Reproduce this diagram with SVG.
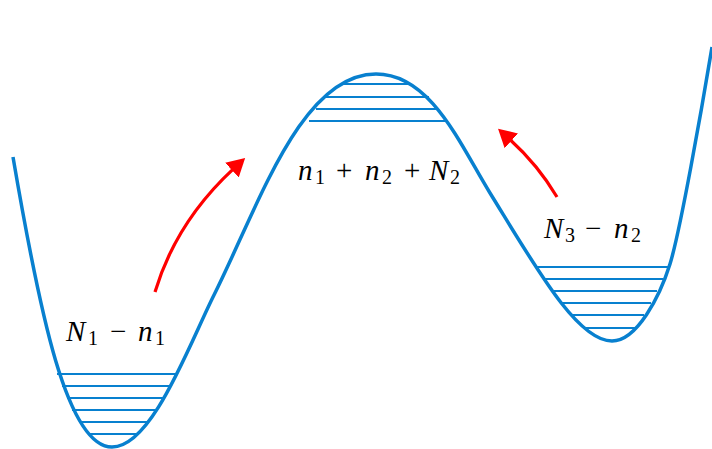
<svg xmlns="http://www.w3.org/2000/svg" width="712" height="449" viewBox="0 0 712 449">
<style>
.curve{fill:none;stroke:#0880CF;stroke-width:3.5;stroke-linecap:butt;stroke-linejoin:round}
.lvl{stroke:#0880CF;stroke-width:2.2;fill:none}
.arr{fill:none;stroke:#ff0000;stroke-width:3.2}
.lab{font-family:"Liberation Serif","DejaVu Serif",serif;fill:#000}
.v{font-style:italic;font-size:29px}
.s{font-size:20px}
.o{font-size:29px}
</style>
<defs>
<marker id="head" viewBox="0 0 18 20" refX="2" refY="10" markerWidth="18" markerHeight="20" markerUnits="userSpaceOnUse" orient="auto">
<path d="M0,0 L18,10 L0,20 Z" fill="#ff0000"/>
</marker>
</defs>
<rect width="712" height="449" fill="#ffffff"/>
<g id="potential">
<path class="curve" d="M13,157 C39.6,312.8 67,447 112,447 C152,447 189,345 214,295 C259,205 301,74 376,74 C431,74 460,144.4 490,193 C535,265.9 577,341 612,341 C637,341 660,296 670,264 C680,232 702,107.6 712,47"/>
</g>
<g id="well-left">
<line class="lvl" x1="57" y1="374" x2="177" y2="374"/>
<line class="lvl" x1="62" y1="386" x2="169" y2="386"/>
<line class="lvl" x1="67" y1="398" x2="164" y2="398"/>
<line class="lvl" x1="72" y1="410" x2="158" y2="410"/>
<line class="lvl" x1="79" y1="422" x2="149" y2="422"/>
<line class="lvl" x1="89" y1="434" x2="138" y2="434"/>
</g>
<g id="barrier-top">
<line class="lvl" x1="342" y1="84" x2="411" y2="84"/>
<line class="lvl" x1="324" y1="97" x2="429" y2="97"/>
<line class="lvl" x1="316" y1="109" x2="438" y2="109"/>
<line class="lvl" x1="309" y1="121" x2="446" y2="121"/>
</g>
<g id="well-right">
<line class="lvl" x1="537" y1="267" x2="668" y2="267"/>
<line class="lvl" x1="544" y1="279" x2="663" y2="279"/>
<line class="lvl" x1="552" y1="291" x2="657" y2="291"/>
<line class="lvl" x1="561" y1="303" x2="651" y2="303"/>
<line class="lvl" x1="572" y1="315" x2="644" y2="315"/>
<line class="lvl" x1="586" y1="328" x2="636" y2="328"/>
</g>
<g id="label-left">
<text class="lab" y="341"><tspan class="v" x="66">N</tspan><tspan class="s" x="88" y="345">1</tspan><tspan class="o" x="110" y="341">−</tspan><tspan class="v" x="138">n</tspan><tspan class="s" x="155" y="345">1</tspan></text>
</g>
<g id="label-top">
<text class="lab" y="180"><tspan class="v" x="298">n</tspan><tspan class="s" x="315" y="184">1</tspan><tspan class="o" x="336" y="180">+</tspan><tspan class="v" x="365">n</tspan><tspan class="s" x="382" y="184">2</tspan><tspan class="o" x="404" y="180">+</tspan><tspan class="v" x="429">N</tspan><tspan class="s" x="450" y="184">2</tspan></text>
</g>
<g id="label-right">
<text class="lab" y="238"><tspan class="v" x="544">N</tspan><tspan class="s" x="565" y="242">3</tspan><tspan class="o" x="585" y="238">−</tspan><tspan class="v" x="614">n</tspan><tspan class="s" x="631" y="242">2</tspan></text>
</g>
<g id="connectors">
<path class="arr" marker-end="url(#head)" d="M155,292 Q176,222 233.4,168.8"/>
<path class="arr" marker-end="url(#head)" d="M557,197 Q538,165 509.9,139.5"/>
</g>
</svg>
